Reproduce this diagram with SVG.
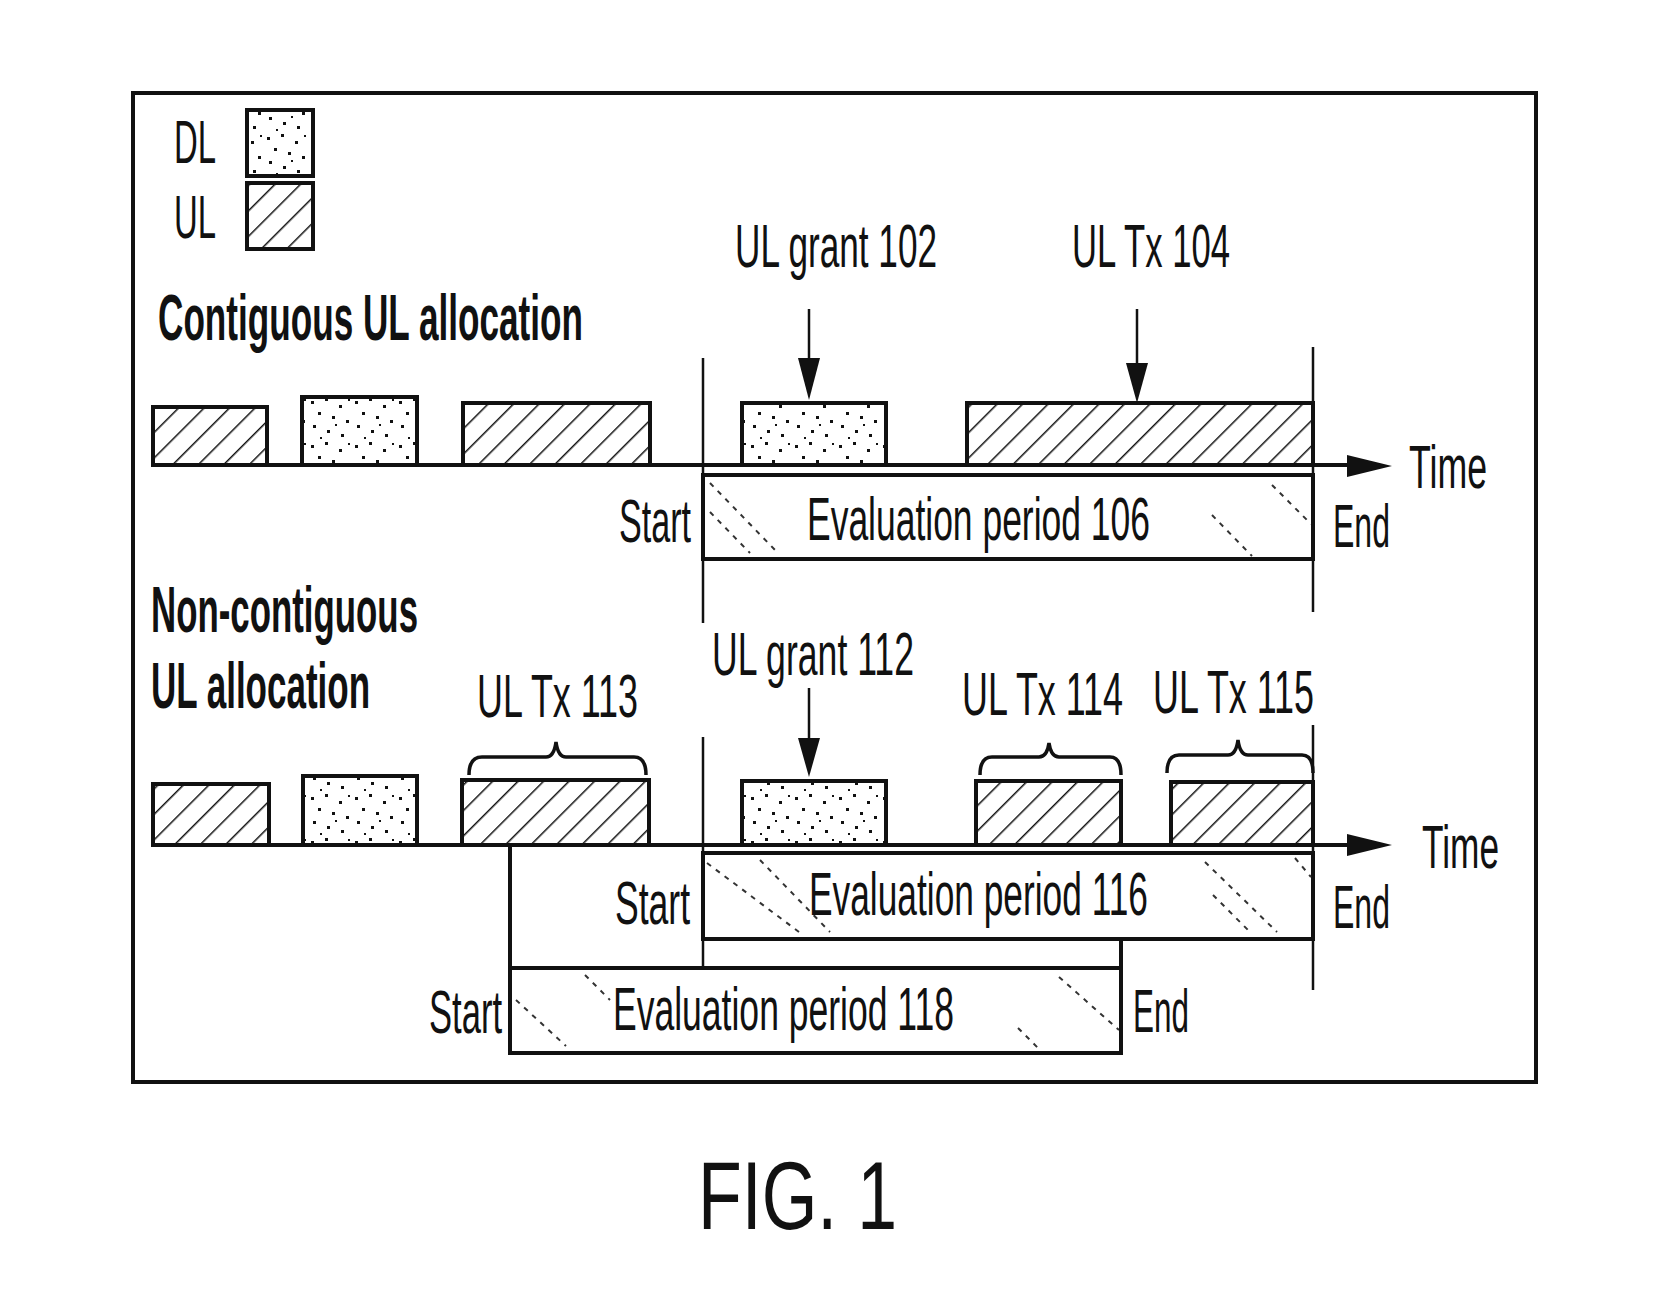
<svg xmlns="http://www.w3.org/2000/svg" width="1663" height="1310" viewBox="0 0 1663 1310">
<style>
  text { font-family: "Liberation Sans", Arial, sans-serif; fill: #111; }
  .lbl { font-size: 62px; }
  .ttl { font-size: 64px; font-weight: bold; }
  .fig { font-size: 96px; }
  .blk { stroke: #111; stroke-width: 4; }
  .ul { fill: url(#ulHatch); }
  .dl { fill: url(#dlDots); }
  .vline { stroke: #111; stroke-width: 2.5; fill: none; }
  .axis { stroke: #111; stroke-width: 4; fill: none; }
  .box { fill: none; stroke: #111; stroke-width: 4; }
  .shaft { stroke: #111; stroke-width: 2.5; fill: none; }
  .head { fill: #111; }
  .faint { stroke: #333; stroke-width: 2; stroke-dasharray: 5 6; fill: none; }
  .brace { stroke: #111; stroke-width: 3.5; fill: none; }
</style>
<defs>
  <pattern id="ulHatch" patternUnits="userSpaceOnUse" width="18" height="18" patternTransform="rotate(45)">
    <rect width="18" height="18" fill="#fff"/>
    <line x1="0" y1="0" x2="0" y2="18" stroke="#111" stroke-width="3"/>
  </pattern>
  <pattern id="dlDots" patternUnits="userSpaceOnUse" width="44" height="44">
    <rect width="44" height="44" fill="#fff"/>
    <g fill="#111">
      <rect x="3" y="5" width="3" height="3"/>
      <rect x="17" y="2" width="3" height="3"/>
      <rect x="31" y="9" width="3" height="3"/>
      <rect x="10" y="16" width="3" height="3"/>
      <rect x="24" y="20" width="3" height="3"/>
      <rect x="38" y="24" width="3" height="3"/>
      <rect x="5" y="29" width="3" height="3"/>
      <rect x="19" y="34" width="3" height="3"/>
      <rect x="33" y="38" width="3" height="3"/>
      <rect x="12" y="41" width="2" height="2"/>
      <rect x="27" y="28" width="2" height="2"/>
      <rect x="40" y="3" width="2" height="2"/>
    </g>
  </pattern>
</defs>
<rect width="1663" height="1310" fill="#fff"/>

<g id="frame">
  <rect x="133" y="93" width="1403" height="989" fill="none" stroke="#111" stroke-width="4"/>
</g>

<g id="legend">
  <text class="lbl" x="174" y="163" textLength="42" lengthAdjust="spacingAndGlyphs">DL</text>
  <rect class="blk dl" x="247" y="110" width="66" height="66"/>
  <text class="lbl" x="174" y="238" textLength="42" lengthAdjust="spacingAndGlyphs">UL</text>
  <rect class="blk ul" x="247" y="183" width="66" height="66"/>
</g>

<g id="titles">
  <text class="ttl" x="158" y="340" textLength="425" lengthAdjust="spacingAndGlyphs">Contiguous UL allocation</text>
  <text class="ttl" x="151" y="632" textLength="267" lengthAdjust="spacingAndGlyphs">Non-contiguous</text>
  <text class="ttl" x="151" y="708" textLength="219" lengthAdjust="spacingAndGlyphs">UL allocation</text>
</g>

<!-- Row 1 -->
<g id="row1-blocks">
  <rect id="r1-ul1" class="blk ul" x="153" y="407" width="114" height="58"/>
  <rect id="r1-dl1" class="blk dl" x="302" y="397" width="115" height="68"/>
  <rect id="r1-ul2" class="blk ul" x="463" y="403" width="187" height="62"/>
  <rect id="r1-grant" class="blk dl" x="742" y="403" width="144" height="62"/>
  <rect id="r1-tx104" class="blk ul" x="967" y="403" width="346" height="62"/>
</g>
<g id="eval106">
  <rect class="box" x="703" y="475" width="610" height="84"/>
  <line class="faint" x1="710" y1="483" x2="777" y2="552"/>
  <line class="faint" x1="710" y1="512" x2="750" y2="553"/>
  <line class="faint" x1="1272" y1="485" x2="1311" y2="524"/>
  <line class="faint" x1="1212" y1="515" x2="1252" y2="556"/>
  <text class="lbl" x="807" y="540" textLength="343" lengthAdjust="spacingAndGlyphs">Evaluation period 106</text>
</g>

<!-- Row 2 -->
<g id="row2-blocks">
  <rect id="r2-ul1" class="blk ul" x="153" y="784" width="116" height="61"/>
  <rect id="r2-dl1" class="blk dl" x="303" y="776" width="114" height="69"/>
  <rect id="r2-tx113" class="blk ul" x="462" y="780" width="187" height="65"/>
  <rect id="r2-grant" class="blk dl" x="742" y="781" width="144" height="64"/>
  <rect id="r2-tx114" class="blk ul" x="976" y="781" width="145" height="64"/>
  <rect id="r2-tx115" class="blk ul" x="1171" y="782" width="142" height="63"/>
</g>
<g id="eval116">
  <rect class="box" x="703" y="853" width="610" height="86"/>
  <line class="faint" x1="707" y1="863" x2="799" y2="932"/>
  <line class="faint" x1="760" y1="860" x2="830" y2="932"/>
  <line class="faint" x1="1205" y1="862" x2="1277" y2="932"/>
  <line class="faint" x1="1213" y1="895" x2="1250" y2="932"/>
  <line class="faint" x1="1295" y1="858" x2="1311" y2="877"/>
  <text class="lbl" x="809" y="915" textLength="339" lengthAdjust="spacingAndGlyphs">Evaluation period 116</text>
</g>
<g id="eval118">
  <rect class="box" x="510" y="968" width="611" height="85"/>
  <line class="faint" x1="516" y1="1000" x2="566" y2="1046"/>
  <line class="faint" x1="585" y1="975" x2="610" y2="1000"/>
  <line class="faint" x1="1059" y1="977" x2="1119" y2="1030"/>
  <line class="faint" x1="1018" y1="1028" x2="1039" y2="1049"/>
  <text class="lbl" x="613" y="1030" textLength="341" lengthAdjust="spacingAndGlyphs">Evaluation period 118</text>
</g>

<g id="connectors">
  <!-- time axes -->
  <line class="axis" x1="153" y1="465" x2="1350" y2="465"/>
  <polygon class="head" points="1347,455 1392,466 1347,477"/>
  <line class="axis" x1="153" y1="845" x2="1350" y2="845"/>
  <polygon class="head" points="1347,834 1392,845 1347,856"/>
  <!-- start/end lines -->
  <line class="vline" x1="703" y1="358" x2="703" y2="623"/>
  <line class="vline" x1="1313" y1="347" x2="1313" y2="612"/>
  <line class="vline" x1="703" y1="737" x2="703" y2="970"/>
  <line class="vline" x1="1313" y1="725" x2="1313" y2="990"/>
  <line class="vline" x1="510" y1="845" x2="510" y2="1053" style="stroke-width:4"/>
  <line class="vline" x1="1121" y1="939" x2="1121" y2="1053" style="stroke-width:4"/>
  <!-- down arrows -->
  <line class="shaft" x1="809" y1="309" x2="809" y2="360"/>
  <polygon class="head" points="798,358 820,358 809,400"/>
  <line class="shaft" x1="1137" y1="309" x2="1137" y2="365"/>
  <polygon class="head" points="1126,363 1148,363 1137,403"/>
  <line class="shaft" x1="809" y1="688" x2="809" y2="740"/>
  <polygon class="head" points="798,738 820,738 809,777"/>
  <!-- braces -->
  <path class="brace" d="M469,775 Q469,757 482,757 L546,757 Q554,757 556,742 Q558,757 566,757 L634,757 Q646,757 646,775"/>
  <path class="brace" d="M980,775 Q980,757 992,757 L1039,757 Q1047,757 1049,743 Q1051,757 1059,757 L1110,757 Q1121,757 1121,775"/>
  <path class="brace" d="M1167,773 Q1167,755 1179,755 L1228,755 Q1236,755 1238,740 Q1240,755 1248,755 L1302,755 Q1313,755 1313,773"/>
</g>

<g id="labels">
  <text class="lbl" x="735" y="267" textLength="202" lengthAdjust="spacingAndGlyphs">UL grant 102</text>
  <text class="lbl" x="1072" y="267" textLength="158" lengthAdjust="spacingAndGlyphs">UL Tx 104</text>
  <text class="lbl" x="1409" y="488" textLength="78" lengthAdjust="spacingAndGlyphs">Time</text>
  <text class="lbl" x="619" y="542" textLength="72" lengthAdjust="spacingAndGlyphs">Start</text>
  <text class="lbl" x="1333" y="547" textLength="57" lengthAdjust="spacingAndGlyphs">End</text>

  <text class="lbl" x="477" y="717" textLength="161" lengthAdjust="spacingAndGlyphs">UL Tx 113</text>
  <text class="lbl" x="712" y="675" textLength="202" lengthAdjust="spacingAndGlyphs">UL grant 112</text>
  <text class="lbl" x="962" y="715" textLength="161" lengthAdjust="spacingAndGlyphs">UL Tx 114</text>
  <text class="lbl" x="1153" y="713" textLength="161" lengthAdjust="spacingAndGlyphs">UL Tx 115</text>
  <text class="lbl" x="1422" y="868" textLength="77" lengthAdjust="spacingAndGlyphs">Time</text>
  <text class="lbl" x="615" y="924" textLength="75" lengthAdjust="spacingAndGlyphs">Start</text>
  <text class="lbl" x="1333" y="928" textLength="57" lengthAdjust="spacingAndGlyphs">End</text>
  <text class="lbl" x="429" y="1033" textLength="73" lengthAdjust="spacingAndGlyphs">Start</text>
  <text class="lbl" x="1133" y="1032" textLength="56" lengthAdjust="spacingAndGlyphs">End</text>
</g>

<g id="caption">
  <text class="fig" x="698" y="1229" textLength="199" lengthAdjust="spacingAndGlyphs">FIG. 1</text>
</g>
</svg>
